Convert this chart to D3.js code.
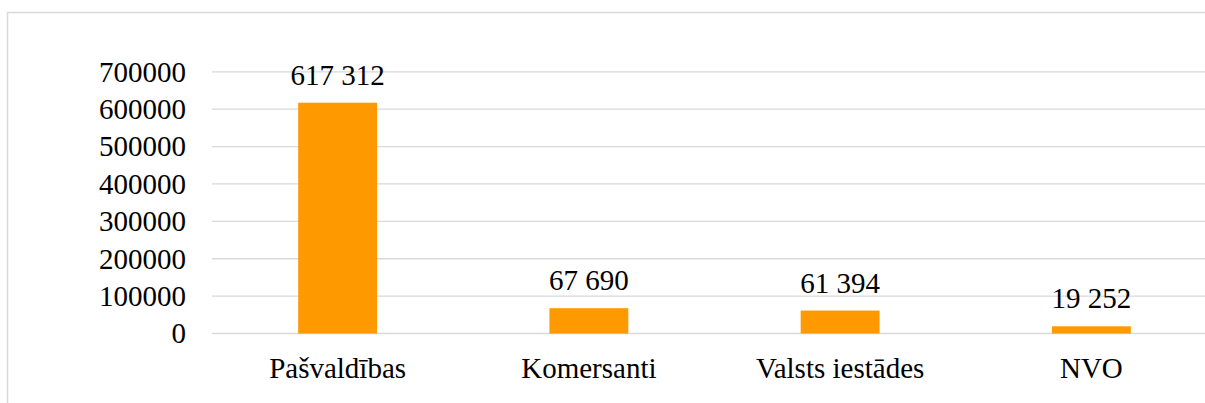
<!DOCTYPE html>
<html>
<head>
<meta charset="utf-8">
<script src="https://cdn.jsdelivr.net/npm/d3@7"></script>
</head>
<body style="margin:0">
<svg width="1205" height="403" style="display:block"></svg>
<script>
// chart data
const categories = ["Pašvaldības", "Komersanti", "Valsts iestādes", "NVO"];
const values = [617312, 67690, 61394, 19252];
const yTicks = [0, 100000, 200000, 300000, 400000, 500000, 600000, 700000];

const svg = d3.select("svg");
const serif = '"Liberation Serif"';

// outer frame (cut off on the right and bottom like the original)
svg.append("rect")
    .attr("x", 7.5)
    .attr("y", 12.5)
    .attr("width", 1400)
    .attr("height", 600)
    .attr("fill", "none")
    .attr("stroke", "#d9d9d9")
    .attr("stroke-width", 1.5);

const left = 212, right = 1217;
const x = d3.scaleBand()
    .domain(categories)
    .range([left, right])
    .paddingInner(0.686)
    .paddingOuter(0.343);

const y = d3.scaleLinear()
    .domain([0, 700000])
    .range([333.5, 71.8]);

// gridlines
svg.append("g")
    .selectAll("line")
    .data(yTicks)
    .enter().append("line")
    .attr("x1", left)
    .attr("x2", 1205)
    .attr("y1", d => y(d))
    .attr("y2", d => y(d))
    .attr("stroke", "#d9d9d9")
    .attr("stroke-width", 1.3);

// y axis labels
svg.append("g")
    .selectAll("text")
    .data(yTicks)
    .enter().append("text")
    .attr("x", 186)
    .attr("y", d => y(d))
    .attr("dy", "0.34em")
    .attr("text-anchor", "end")
    .style("font-family", serif)
    .style("font-size", "29px")
    .text(d => d3.format("d")(d));

// bars
svg.selectAll(".bar")
    .data(values)
    .enter().append("rect")
    .attr("class", "bar")
    .attr("x", (d, i) => x(categories[i]))
    .attr("y", d => y(d))
    .attr("width", x.bandwidth())
    .attr("height", d => y(0) - y(d))
    .attr("fill", "#ff9900");

// value labels
const fmt = d3.formatLocale({ decimal: ",", thousands: " ", grouping: [3], currency: ["", ""] }).format(",d");
svg.selectAll(".val")
    .data(values)
    .enter().append("text")
    .attr("class", "val")
    .attr("x", (d, i) => x(categories[i]) + x.bandwidth() / 2)
    .attr("y", d => y(d) - 18)
    .attr("text-anchor", "middle")
    .style("font-family", serif)
    .style("font-size", "29px")
    .text(d => fmt(d));

// category labels
svg.append("g")
    .selectAll("text")
    .data(categories)
    .enter().append("text")
    .attr("x", d => x(d) + x.bandwidth() / 2)
    .attr("y", y(0) + 44)
    .attr("text-anchor", "middle")
    .style("font-family", serif)
    .style("font-size", "29px")
    .text(d => d);
</script>
</body>
</html>
